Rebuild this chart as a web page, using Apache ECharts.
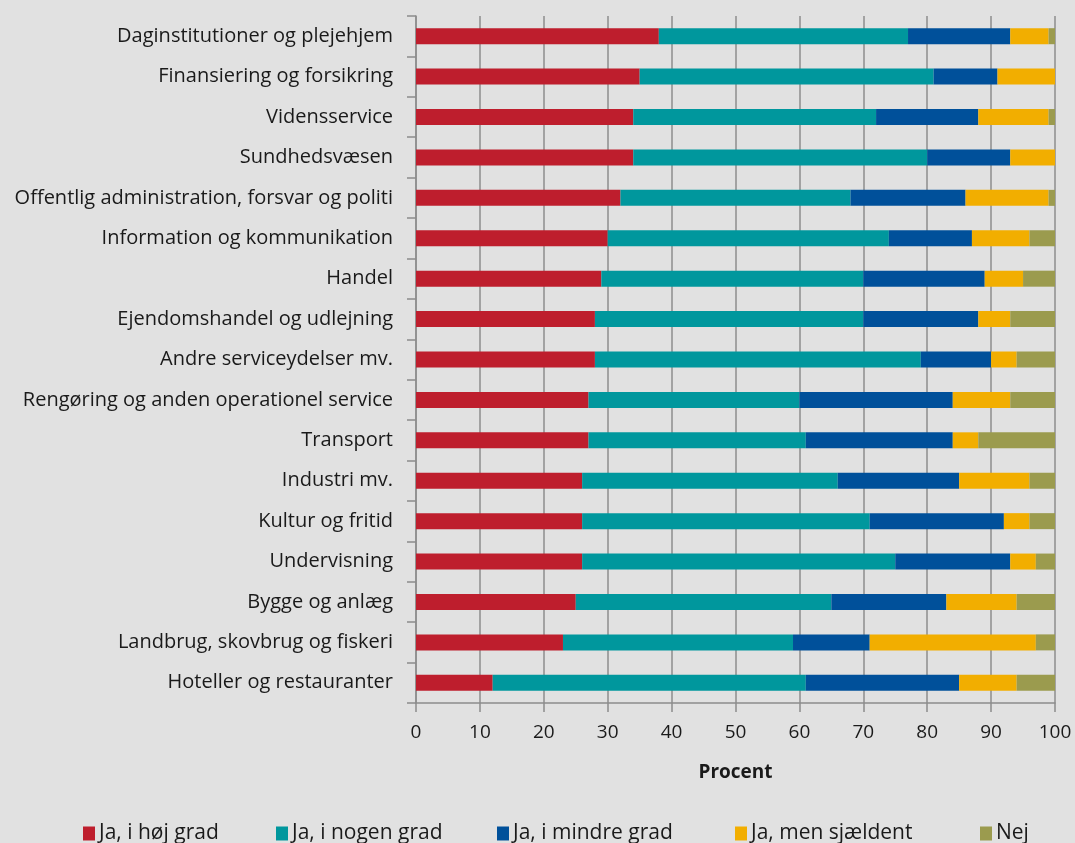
<!DOCTYPE html>
<html><head><meta charset="utf-8">
<script src="https://cdn.jsdelivr.net/npm/echarts@6/dist/echarts.min.js"></script>
<style>html,body{margin:0;padding:0;background:#e1e1e1;}#c{width:1075px;height:843px;}</style>
</head><body><div id="c"></div>
<script>
const categories = ["Daginstitutioner og plejehjem","Finansiering og forsikring","Vidensservice","Sundhedsvæsen","Offentlig administration, forsvar og politi","Information og kommunikation","Handel","Ejendomshandel og udlejning","Andre serviceydelser mv.","Rengøring og anden operationel service","Transport","Industri mv.","Kultur og fritid","Undervisning","Bygge og anlæg","Landbrug, skovbrug og fiskeri","Hoteller og restauranter"];
const seriesNames = ["Ja, i høj grad","Ja, i nogen grad","Ja, i mindre grad","Ja, men sjældent","Nej"];
const hojGrad    = [38,35,34,34,32,30,29,28,28,27,27,26,26,26,25,23,12];
const nogenGrad  = [39,46,38,46,36,44,41,42,51,33,34,40,45,49,40,36,49];
const mindreGrad = [16,10,16,13,18,13,19,18,11,24,23,19,21,18,18,12,24];
const sjaeldent  = [6,9,11,7,13,9,6,5,4,9,4,11,4,4,11,26,9];
const nej        = [1,0,1,0,1,4,5,7,6,7,12,4,4,3,6,3,6];
const xTicks = [0,10,20,30,40,50,60,70,80,90,100];

const colors = ["#BE1E2D","#00979D","#00509A","#F2AE00","#9B9B4E"];
const values = [hojGrad, nogenGrad, mindreGrad, sjaeldent, nej];
const font = "'Open Sans', 'Noto Sans', sans-serif";
const chart = echarts.init(document.getElementById('c'), null, {renderer:'canvas'});
const legendLeft = [78, 271, 492, 730, 975];
chart.setOption({
  backgroundColor: '#e1e1e1',
  animation: false,
  color: colors,
  grid: {left: 416, right: 20, top: 16, bottom: 140},
  legend: seriesNames.map((n,i)=>({
    data:[n], left: legendLeft[i], top: 818, itemWidth: 12, itemHeight: 14, itemGap: 4,
    icon: 'rect', textStyle:{fontFamily: font, fontSize: 21, color:'#1a1a1a', padding:[0,0,0,-1]}
  })),
  xAxis: {
    type: 'value', min: 0, max: 100, interval: 10,
    name: 'Procent', nameLocation: 'middle', nameGap: 60,
    nameTextStyle: {fontFamily: font, fontSize: 19, fontWeight: 'bold', color:'#1a1a1a'},
    axisLine: {show: true, lineStyle: {color: '#8c8c8c', width: 1.5}},
    axisTick: {show: true, length: 9, lineStyle: {color: '#8c8c8c', width: 1.5}},
    axisLabel: {fontFamily: font, fontSize: 19, color: '#1a1a1a', margin: 20,
      formatter: v => xTicks.includes(v) ? String(v) : ''},
    splitLine: {show: true, lineStyle: {color: '#8c8c8c', width: 1.5}}
  },
  yAxis: {
    type: 'category', data: categories, inverse: true,
    axisLine: {show: true, lineStyle: {color: '#8c8c8c', width: 1.5}},
    axisTick: {show: true, length: 9, lineStyle: {color: '#8c8c8c', width: 1.5}},
    axisLabel: {fontFamily: font, fontSize: 20, color: '#1a1a1a', margin: 23}
  },
  series: seriesNames.map((n,i)=>({
    name: n, type: 'bar', stack: 'total', data: values[i], barWidth: 16,
    itemStyle: {color: colors[i]}
  }))
});
</script></body></html>
